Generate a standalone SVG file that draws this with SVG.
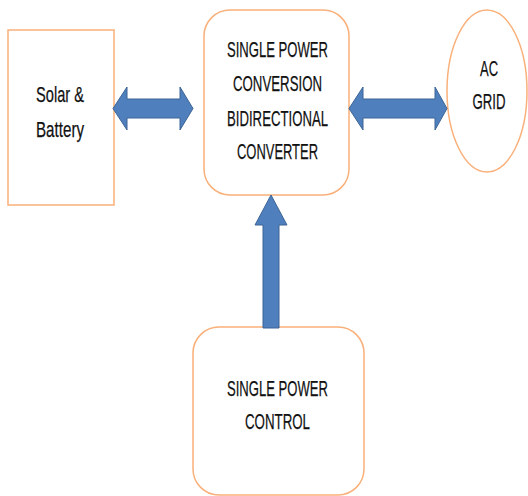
<svg xmlns="http://www.w3.org/2000/svg" width="528" height="496" viewBox="0 0 528 496">
<style>
.box{fill:#fff;stroke:#f9b07a;stroke-width:1.5}
.arr{fill:#4f7fbd;stroke:#3d6596;stroke-width:1}
.t{font-family:"Liberation Sans",Arial,sans-serif;font-size:22.5px;fill:#111;stroke:#111;stroke-width:0.25;text-anchor:middle}
</style>
<rect width="528" height="496" fill="#fff"/>
<g id="solar">
<rect class="box" x="8" y="30" width="106" height="175"/>
<text class="t" x="60" y="101.5" textLength="48" lengthAdjust="spacingAndGlyphs">Solar &amp;</text>
<text class="t" x="60" y="136.5" textLength="48" lengthAdjust="spacingAndGlyphs">Battery</text>
</g>
<g id="converter">
<rect class="box" x="204" y="10" width="145" height="185" rx="26" ry="26"/>
<text class="t" x="277.5" y="56.5" textLength="101" lengthAdjust="spacingAndGlyphs">SINGLE POWER</text>
<text class="t" x="277.5" y="90.5" textLength="89" lengthAdjust="spacingAndGlyphs">CONVERSION</text>
<text class="t" x="277.5" y="125.5" textLength="101" lengthAdjust="spacingAndGlyphs">BIDIRECTIONAL</text>
<text class="t" x="277.5" y="158.5" textLength="81" lengthAdjust="spacingAndGlyphs">CONVERTER</text>
</g>
<g id="grid">
<ellipse class="box" cx="487" cy="91" rx="40" ry="81"/>
<text class="t" x="489" y="75.5" textLength="18" lengthAdjust="spacingAndGlyphs">AC</text>
<text class="t" x="489" y="108.5" textLength="33" lengthAdjust="spacingAndGlyphs">GRID</text>
</g>
<g id="control">
<rect class="box" x="193" y="327" width="171" height="168" rx="26" ry="26"/>
<text class="t" x="277.5" y="395.5" textLength="101" lengthAdjust="spacingAndGlyphs">SINGLE POWER</text>
<text class="t" x="277.5" y="428.5" textLength="65" lengthAdjust="spacingAndGlyphs">CONTROL</text>
</g>
<g id="connectors">
<path class="arr" d="M113,108.5 L127,87 L127,99 L180,99 L180,87 L193,108.5 L180,130 L180,118 L127,118 L127,130 Z"/>
<path class="arr" d="M349,108.5 L363,87 L363,99 L435,99 L435,87 L447,108.5 L435,130 L435,118 L363,118 L363,130 Z"/>
<path class="arr" d="M271,195 L287,225 L279,225 L279,328 L263,328 L263,225 L255,225 Z"/>
</g>
</svg>
